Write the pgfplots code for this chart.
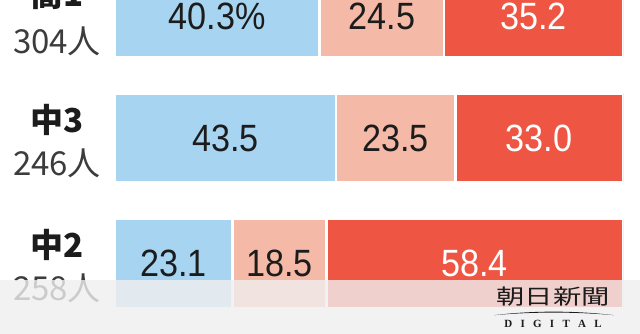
\documentclass[border=0pt]{standalone}
\usepackage{pgfplots}
\pgfplotsset{compat=1.18}
\usepackage{fontspec}
\setmainfont{Liberation Sans}
\newfontfamily\jp{Noto Sans CJK JP}
\newfontfamily\jpw[FakeStretch=1.35]{Noto Sans CJK JP}
\newfontfamily\num[FakeStretch=0.9]{Liberation Sans}
\newfontfamily\dig{Liberation Serif}
\definecolor{cblue}{HTML}{A6D4F1}
\definecolor{cpink}{HTML}{F4B9A7}
\definecolor{cred}{HTML}{EE5643}
\definecolor{ctext}{HTML}{1C1C1C}
\definecolor{cgray}{HTML}{3C3C3C}
\definecolor{cband}{HTML}{F1EFEF}
\begin{document}
\begin{tikzpicture}
\useasboundingbox (0,0) rectangle (640pt,334pt);
\clip (0,0) rectangle (640pt,334pt);
\fill[white] (0,0) rectangle (640pt,334pt);
\begin{axis}[
  at={(115pt,0pt)}, anchor=south west,
  scale only axis, width=508pt, height=334pt,
  xmin=0, xmax=100, ymin=-0.562, ymax=2.0996,
  hide axis, xbar stacked, bar width=89pt,
  clip mode=individual,
  every axis plot/.append style={draw=white, line width=2.5pt},
]
\addplot[fill=cblue] coordinates {(23.1,0) (43.5,1) (40.3,2)};
\addplot[fill=cpink] coordinates {(18.5,0) (23.5,1) (24.5,2)};
\addplot[fill=cred]  coordinates {(58.4,0) (33.0,1) (35.2,2)};
\coordinate (a1) at (axis cs:20.15,2);
\coordinate (a2) at (axis cs:52.55,2);
\coordinate (a3) at (axis cs:82.4,2);
\coordinate (b1) at (axis cs:21.75,1);
\coordinate (b2) at (axis cs:55.25,1);
\coordinate (b3) at (axis cs:83.5,1);
\coordinate (c1) at (axis cs:11.55,0);
\coordinate (c2) at (axis cs:32.35,0);
\coordinate (c3) at (axis cs:70.8,0);
\coordinate (la) at (axis cs:0,2);
\coordinate (lb) at (axis cs:0,1);
\coordinate (lc) at (axis cs:0,0);
\end{axis}
\tikzset{v/.style={font=\num\fontsize{38}{38}\selectfont, text=ctext, inner sep=0pt},
         w/.style={v, text=white},
         n/.style={font=\jp\bfseries\fontsize{33}{33}\selectfont, text=ctext, inner sep=0pt, xshift=-58pt, yshift=18.5pt},
         c/.style={font=\jp\fontsize{33}{33}\selectfont, text=cgray, inner sep=0pt, xshift=-58pt, yshift=-25pt}}
\node[v, yshift=-3.5pt] at (a1) {40.3\%};
\node[v, yshift=-3.5pt] at (a2) {24.5};
\node[w, yshift=-3.5pt] at (a3) {35.2};
\node[v] at (b1) {43.5};
\node[v] at (b2) {23.5};
\node[w] at (b3) {33.0};
\node[v] at (c1) {23.1};
\node[v] at (c2) {18.5};
\node[w] at (c3) {58.4};
\node[n] at (la) {高1};
\node[c, yshift=-3.5pt] at (la) {304人};
\node[n] at (lb) {中3};
\node[c] at (lb) {246人};
\node[n] at (lc) {中2};
\node[c] at (lc) {258人};
% watermark band
\fill[cband, opacity=0.8] (0,0) rectangle (640pt,54pt);
\node[font=\jpw\fontsize{21}{21}\selectfont, text=ctext, inner sep=0pt] at (553pt,37pt) {朝日新聞};
\fill[ctext] (494pt,18.8pt) .. controls (532pt,23.5pt) and (575pt,23.5pt) .. (614pt,18.8pt)
   .. controls (575pt,22.3pt) and (532pt,22.3pt) .. (494pt,18.8pt);
\node[font=\dig\bfseries\fontsize{11}{11}\selectfont, text=ctext, inner sep=0pt] at (553pt,10.5pt) {D\hspace{8.3pt}I\hspace{8.3pt}G\hspace{8.3pt}I\hspace{8.3pt}T\hspace{8.3pt}A\hspace{8.3pt}L};
\end{tikzpicture}
\end{document}
